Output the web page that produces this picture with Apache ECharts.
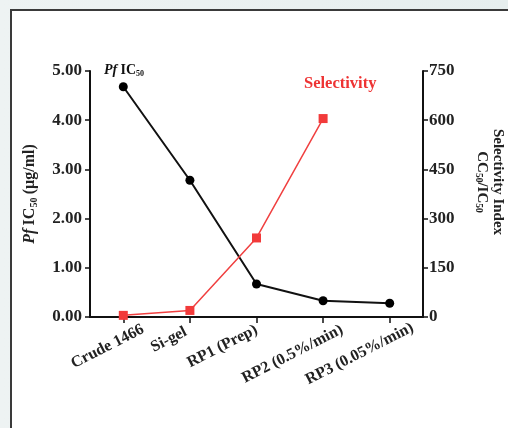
<!DOCTYPE html>
<html><head><meta charset="utf-8">
<script src="https://cdn.jsdelivr.net/npm/echarts@6/dist/echarts.min.js"></script>
<style>
html,body{margin:0;padding:0;width:508px;height:428px;overflow:hidden;background:linear-gradient(90deg,#eef3f3,#e6eeee);}
#panel{position:absolute;left:10px;top:9px;width:520px;height:440px;background:#fff;border-left:2px solid #3a3a3a;border-top:2px solid #3a3a3a;}
#c{position:absolute;left:0;top:0;width:508px;height:428px;}
</style></head>
<body><div id="panel"></div><div id="c"></div>
<script>
const categories = ['Crude 1466', 'Si-gel', 'RP1 (Prep)', 'RP2 (0.5%/min)', 'RP3 (0.05%/min)'];
const ic50Values = [4.68, 2.78, 0.67, 0.33, 0.28];
const selectivityValues = [5, 20, 241, 605, null];
const leftTicks = {min: 0, max: 5, interval: 1};
const rightTicks = {min: 0, max: 750, interval: 150};

const serif = '"Liberation Serif","DejaVu Serif",serif';
// horizontal offset of each label's end from its tick, as in the reference
const labelOffset = [20, -5, 0, 19, 24];
const xData = categories.map((c, i) => ({value: c, textStyle: {padding: [0, -labelOffset[i] / 1.12, 0, 0]}}));

const chart = echarts.init(document.getElementById('c'), null, {renderer: 'canvas'});
chart.setOption({
  backgroundColor: 'transparent',
  animation: false,
  grid: {left: 90, right: 85, top: 71, bottom: 111, containLabel: false, outerBoundsMode: 'none'},
  xAxis: {
    type: 'category', data: xData, boundaryGap: true,
    axisLine: {lineStyle: {color: '#111', width: 2}},
    axisTick: {show: true, alignWithLabel: true, length: 6, lineStyle: {color: '#111', width: 1.5}},
    axisLabel: {rotate: 27, margin: 12, color: '#222', fontFamily: serif, fontWeight: 'bold', fontSize: 16, interval: 0,
      lineHeight: 17, align: 'right', verticalAlign: 'middle',
      formatter: (v, i) => (labelOffset[i] > 10 ? '\n' : '') + v}
  },
  yAxis: [{
    type: 'value', min: leftTicks.min, max: leftTicks.max, interval: leftTicks.interval,
    splitLine: {show: false},
    axisLine: {show: true, lineStyle: {color: '#111', width: 2}},
    axisTick: {show: true, length: 5, lineStyle: {color: '#111', width: 1.5}},
    axisLabel: {formatter: v => v.toFixed(2), color: '#222', fontFamily: serif, fontWeight: 'bold', fontSize: 17, margin: 8},
    name: '{i|Pf} {b|IC}{s|50} {b|(µg/ml)}',
    nameLocation: 'middle', nameRotate: 90, nameGap: 51,
    nameTextStyle: {rich: {
      i: {fontFamily: serif, fontStyle: 'italic', fontWeight: 'bold', fontSize: 16, color: '#222'},
      b: {fontFamily: serif, fontWeight: 'bold', fontSize: 16, color: '#222'},
      s: {fontFamily: serif, fontWeight: 'bold', fontSize: 10, color: '#222', padding: [8, 0, 0, 0]}
    }}
  }, {
    type: 'value', min: rightTicks.min, max: rightTicks.max, interval: rightTicks.interval, position: 'right',
    splitLine: {show: false},
    axisLine: {show: true, lineStyle: {color: '#111', width: 2}},
    axisTick: {show: true, length: 5, lineStyle: {color: '#111', width: 1.5}},
    axisLabel: {color: '#222', fontFamily: serif, fontWeight: 'bold', fontSize: 17, margin: 6},
    name: '{b|Selectivity Index}\n{b|CC}{s|50}{b|/IC}{s|50}',
    nameLocation: 'middle', nameRotate: -90, nameGap: 51,
    nameTextStyle: {align: 'center', lineHeight: 16, padding: [0, 24, 0, 0], rich: {
      b: {fontFamily: serif, fontWeight: 'bold', fontSize: 15, color: '#222', lineHeight: 16},
      s: {fontFamily: serif, fontWeight: 'bold', fontSize: 9.5, color: '#222', lineHeight: 16, padding: [7, 0, 0, 0]}
    }}
  }],
  graphic: [
    {type: 'text', left: 104, top: 63, style: {rich: {
      i: {fontFamily: serif, fontStyle: 'italic', fontWeight: 'bold', fontSize: 14, fill: '#111'},
      b: {fontFamily: serif, fontWeight: 'bold', fontSize: 14, fill: '#111'},
      s: {fontFamily: serif, fontWeight: 'bold', fontSize: 8, fill: '#111', padding: [7, 0, 0, 0]}
    }, text: '{i|Pf} {b|IC}{s|50}'}},
    {type: 'text', left: 304, top: 75, style: {text: 'Selectivity', fontFamily: serif, fontWeight: 'bold', fontSize: 16.5, fill: '#ee3333'}}
  ],
  series: [{
    type: 'line', yAxisIndex: 0, data: ic50Values,
    symbol: 'circle', symbolSize: 9,
    itemStyle: {color: '#000'}, lineStyle: {color: '#111', width: 2}
  }, {
    type: 'line', yAxisIndex: 1, data: selectivityValues, connectNulls: false,
    symbol: 'rect', symbolSize: 9,
    itemStyle: {color: '#f23a3a'}, lineStyle: {color: '#f04040', width: 1.5}
  }]
});
</script></body></html>
